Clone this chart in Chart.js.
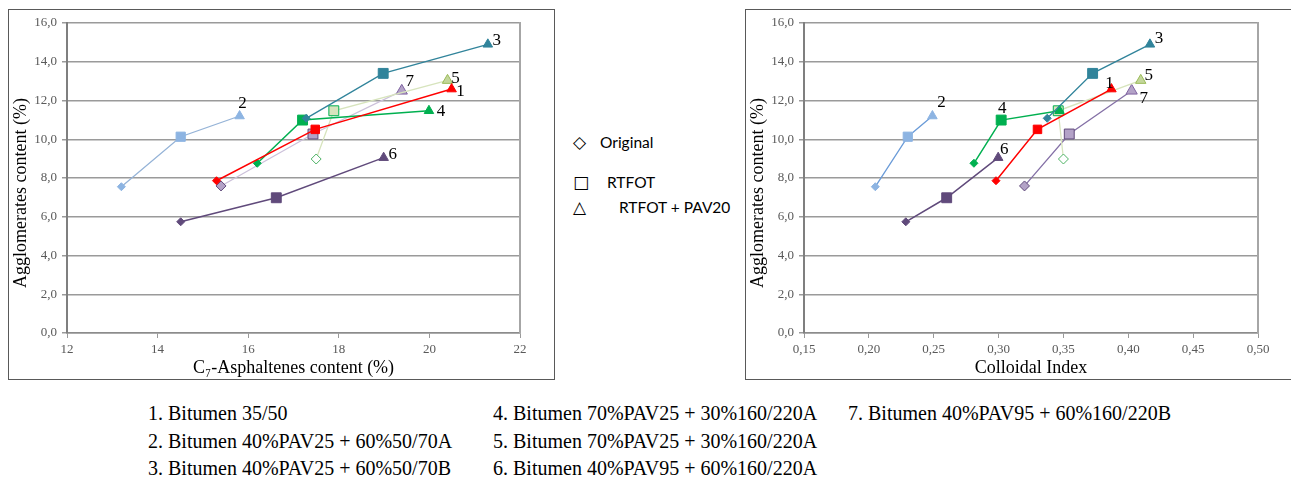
<!DOCTYPE html>
<html><head><meta charset="utf-8">
<script src="https://cdn.jsdelivr.net/npm/chart.js@4.4.1/dist/chart.umd.min.js"></script>
<style>
body{margin:0;background:#fff;width:1291px;height:479px;overflow:hidden;position:relative;font-family:'Liberation Serif',serif;}
.box{position:absolute;border:1px solid #595959;background:#fff;}
#boxL{left:8px;top:9px;width:545px;height:369px;}
#boxR{left:745px;top:9px;width:600px;height:369px;}
canvas{position:absolute;left:0;top:0;}
.mid{position:absolute;font-family:Lato,'Liberation Sans',sans-serif;font-size:15.5px;color:#000;line-height:18px;white-space:nowrap;}
.sym{position:absolute;font-family:'DejaVu Sans',sans-serif;font-size:17px;line-height:18px;color:#000;}
.leg{position:absolute;font-family:'Liberation Serif',serif;font-size:20px;color:#000;white-space:nowrap;line-height:22px;}
</style></head>
<body>
<div class="box" id="boxL"><canvas id="cL" width="545" height="369"></canvas></div>
<div class="box" id="boxR"><canvas id="cR" width="546" height="369"></canvas></div>
<div id="midLegend"></div>
<div id="bottomLegend"></div>
<script>
// ---- data ----
const seriesNumbers = ['1','2','3','4','5','6','7'];
const seriesNames = [
  '1. Bitumen 35/50',
  '2. Bitumen 40%PAV25 + 60%50/70A',
  '3. Bitumen 40%PAV25 + 60%50/70B',
  '4. Bitumen 70%PAV25 + 30%160/220A',
  '5. Bitumen 70%PAV25 + 30%160/220A',
  '6. Bitumen 40%PAV95 + 60%160/220A',
  '7. Bitumen 40%PAV95 + 60%160/220B'
];
const agingStates = ['Original', 'RTFOT', 'RTFOT + PAV20'];
// Agglomerates content (%)
const agglomOriginal = [7.86, 7.55, 11.08, 8.76, 8.98, 5.74, 7.59];
const agglomRTFOT    = [10.51, 10.13, 13.40, 10.99, 11.47, 6.98, 10.27];
const agglomPAV      = [12.59, 11.20, 14.90, 11.47, 13.04, 9.05, 12.50];
// C7-Asphaltenes content (%)
const asphOriginal = [15.30, 13.20, 17.28, 16.20, 17.50, 14.51, 15.40];
const asphRTFOT    = [17.48, 14.51, 18.98, 17.20, 17.89, 16.62, 17.43];
const asphPAV      = [20.49, 15.81, 21.29, 19.99, 20.40, 18.99, 19.39];
// Colloidal Index
const ciOriginal = [0.298, 0.205, 0.3375, 0.281, 0.350, 0.2285, 0.320];
const ciRTFOT    = [0.330, 0.230, 0.3725, 0.302, 0.346, 0.260, 0.3545];
const ciPAV      = [0.387, 0.249, 0.4167, 0.347, 0.4096, 0.2997, 0.4026];
// axis ranges / ticks
const yTicks = [0, 16, 2];
const xTicksLeft = [12, 22, 2];
const xTicksRight = [0.15, 0.50, 0.05];
const yTitle = 'Agglomerates content (%)';

// ---- styles ----
const lineColL = ['#FF0000','#95B3D7','#31849B','#00B050','#D7E4BD','#604A7B','#CCC1DA'];
const lineColR = ['#FF0000','#6A9BD8','#31849B','#00B050','#D7E4BD','#604A7B','#8470A6'];
const fillCols = [
  ['#FF0000','#FF0000','#FF0000'],
  ['#8DB4E2','#8DB4E2','#8DB4E2'],
  ['#31849B','#31849B','#31849B'],
  ['#00B050','#00B050','#00B050'],
  ['#FFFFFF','#D7E4BD','#C3D69B'],
  ['#604A7B','#604A7B','#604A7B'],
  ['#B3A2C7','#B3A2C7','#B3A2C7']
];
const edgeCols = [
  ['#FF0000','#FF0000','#FF0000'],
  ['#8DB4E2','#8DB4E2','#8DB4E2'],
  ['#31849B','#31849B','#31849B'],
  ['#00B050','#00B050','#00B050'],
  ['#4EB265','#00B050','#9BBB59'],
  ['#604A7B','#604A7B','#604A7B'],
  ['#604A7B','#604A7B','#8064A2']
];
const radii = [[4,6,5.5],[4,6.5,5.5],[4,7,5.5],[4,7,5.5],[5,7,6],[4,7,5.5],[5,7,6.5]];
const lineW = [1.5,1.3,1.3,1.5,1.3,1.5,1.3];

// label placement: [series, point index, dx, dy]
const labelPosL = [[0,2,9,2],[1,2,3,-12],[2,2,9,-4],[3,2,12,1],[4,2,8,-2],[5,2,9,-3],[6,2,8,-9]];
const labelPosR = [[0,2,-2,-6],[1,2,9,-13],[2,2,9,-6],[3,1,1,-12],[4,2,8,-5],[5,2,6,-8],[6,2,12,8]];

const gridCol = '#9a9a9a';
const tickCol = '#595959';
const serif = "'Liberation Serif', 'Times New Roman', serif";

const overlayPlugin = {
  id: 'overlay',
  afterDatasetsDraw(chart, args, opts) {
    const ctx = chart.ctx, ca = chart.chartArea;
    ctx.save();
    ctx.strokeStyle = '#a6a6a6';
    ctx.lineWidth = 2;
    ctx.beginPath();
    ctx.moveTo(ca.right, ca.top - 1);
    ctx.lineTo(ca.right, ca.bottom);
    ctx.stroke();
    ctx.font = "17px " + serif;
    ctx.fillStyle = '#000';
    ctx.textAlign = 'center';
    ctx.textBaseline = 'middle';
    opts.labels.forEach(([s, p, dx, dy]) => {
      const el = chart.getDatasetMeta(s).data[p];
      ctx.fillText(seriesNumbers[s], el.x + dx, el.y + dy);
    });
    // y axis title
    ctx.font = "18px " + serif;
    ctx.translate(12, 183);
    ctx.rotate(-Math.PI / 2);
    ctx.fillText(yTitle, 0, 0);
    ctx.restore();
  }
};

function makeChart(id, xo, xr, xp, xt, xTitle, xFmt, lineCols, labels) {
  const datasets = seriesNames.map((name, i) => ({
    label: name,
    data: [
      {x: xo[i], y: agglomOriginal[i]},
      {x: xr[i], y: agglomRTFOT[i]},
      {x: xp[i], y: agglomPAV[i]}
    ],
    showLine: true,
    borderColor: lineCols[i],
    borderWidth: lineW[i],
    pointStyle: ['rectRot','rect','triangle'],
    pointRadius: radii[i],
    pointBackgroundColor: fillCols[i],
    pointBorderColor: edgeCols[i],
    pointBorderWidth: 1,
    order: i
  }));
  return new Chart(document.getElementById(id), {
    type: 'scatter',
    data: { datasets },
    plugins: [overlayPlugin],
    options: {
      responsive: false,
      animation: false,
      devicePixelRatio: 1,
      layout: { padding: { top: 13, right: 34, left: 0, bottom: 0 } },
      plugins: { legend: { display: false }, tooltip: { enabled: false }, overlay: { labels } },
      scales: {
        x: {
          type: 'linear', min: xt[0], max: xt[1],
          afterFit: s => { s.height = 46; },
          ticks: { stepSize: xt[2], color: tickCol, font: { family: serif, size: 13 }, padding: 4, maxRotation: 0,
                   callback: v => xFmt(v) },
          grid: { drawOnChartArea: false, drawTicks: true, tickLength: 5, color: gridCol, lineWidth: 1 },
          border: { color: '#8c8c8c', width: 1.5 },
          title: { display: true, text: xTitle, color: '#000', font: { family: serif, size: 18 }, padding: 0 }
        },
        y: {
          type: 'linear', min: yTicks[0], max: yTicks[1],
          afterFit: s => { s.width = 58; },
          ticks: { stepSize: yTicks[2], color: tickCol, font: { family: serif, size: 13 }, padding: 5,
                   callback: v => v.toFixed(1).replace('.', ',') },
          grid: { color: gridCol, lineWidth: 1.5, tickLength: 5 },
          border: { color: '#7f7f7f', width: 2 },
          title: { display: false }
        }
      }
    }
  });
}

makeChart('cL', asphOriginal, asphRTFOT, asphPAV, xTicksLeft, 'C\u2087-Asphaltenes content (%)',
          v => String(Math.round(v)), lineColL, labelPosL);
makeChart('cR', ciOriginal, ciRTFOT, ciPAV, xTicksRight, 'Colloidal Index',
          v => v.toFixed(2).replace('.', ','), lineColR, labelPosR);

// middle legend
const symbols = ['\u25C7', '\u25A1', '\u25B3'];
const midY = [142, 182, 207];
const midTextX = [600, 607, 619];
const mid = document.getElementById('midLegend');
agingStates.forEach((t, i) => {
  const s = document.createElement('div');
  s.className = 'sym'; s.textContent = symbols[i];
  s.style.left = '573px'; s.style.top = (midY[i] - 9) + 'px';
  mid.appendChild(s);
  const d = document.createElement('div');
  d.className = 'mid'; d.textContent = t;
  d.style.left = midTextX[i] + 'px'; d.style.top = (midY[i] - 9) + 'px';
  mid.appendChild(d);
});

// bottom legend
const colX = [148, 493, 848];
const rowY = [413, 441, 468];
const bl = document.getElementById('bottomLegend');
seriesNames.forEach((n, i) => {
  const c = Math.floor(i / 3), r = i % 3;
  const d = document.createElement('div');
  d.className = 'leg'; d.textContent = n;
  d.style.left = colX[c] + 'px'; d.style.top = (rowY[r] - 11) + 'px';
  bl.appendChild(d);
});
</script>
</body></html>
